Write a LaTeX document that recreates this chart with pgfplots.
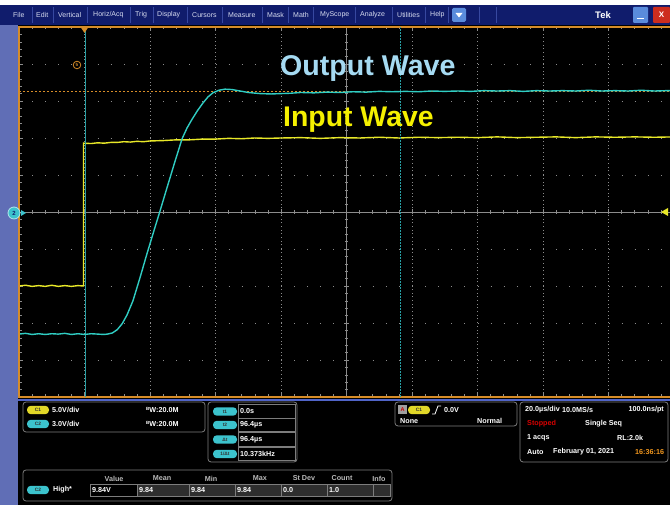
\documentclass[border=0pt]{standalone}
\usepackage{pgfplots}
\pgfplotsset{compat=1.18}
\usepackage{fontspec}
\setmainfont{Liberation Sans}
\definecolor{menubg}{RGB}{16,28,108}
\definecolor{menusep}{RGB}{55,72,160}
\definecolor{menutxt}{RGB}{215,220,240}
\definecolor{strip}{RGB}{96,110,182}
\definecolor{frameor}{RGB}{214,140,40}
\definecolor{gridc}{RGB}{140,140,140}
\definecolor{cyanT}{RGB}{48,205,195}
\definecolor{yelT}{RGB}{232,232,40}
\definecolor{cursorc}{RGB}{40,160,165}
\definecolor{outlbl}{RGB}{165,218,242}
\definecolor{inlbl}{RGB}{245,240,0}
\definecolor{pillc}{RGB}{60,195,205}
\definecolor{pilly}{RGB}{225,215,40}
\definecolor{boxc}{RGB}{125,125,125}
\definecolor{btnblue}{RGB}{90,140,220}
\definecolor{btnred}{RGB}{205,45,30}
\definecolor{panelblue}{RGB}{80,100,200}
\definecolor{hdr}{RGB}{185,185,185}
\definecolor{clockor}{RGB}{240,150,30}
\newcommand{\mtxt}[2]{\node[anchor=west,inner sep=0,text=menutxt,font=\fontsize{7}{7}\selectfont] at (#1,15) {#2};}
\newcommand{\pill}[4]{\fill[#1, rounded corners=3.8pt] (#2-11,#3-4.2) rectangle (#2+11,#3+4.2); \node[font=\bfseries\fontsize{4.8}{5}\selectfont, text=black!80, inner sep=0] at (#2,#3) {#4};}
\tikzset{ptxt/.style={anchor=west,inner sep=0,text=white,font=\bfseries\fontsize{7.2}{7.5}\selectfont},
 htxt/.style={inner sep=0,text=hdr,font=\bfseries\fontsize{7.2}{7.5}\selectfont},
 pbox/.style={draw=boxc, line width=0.8pt, rounded corners=3pt}}
\begin{document}
\begin{tikzpicture}[x=1pt,y=1pt]
\useasboundingbox (0,0) rectangle (670,505);
\fill[black] (0,0) rectangle (670,505);
% centre cross with ticks
\begin{axis}[at={(19pt,108pt)}, anchor=south west, scale only axis, width=655pt, height=370pt,
 xmin=-100,xmax=100,ymin=-5,ymax=5, axis lines=middle,
 axis line style={draw=gridc,line width=0.5pt,-},
 xtick={-100,-80,...,100}, ytick={-5,-4,...,5}, minor x tick num=4, minor y tick num=4,
 xticklabels={}, yticklabels={}, tick align=center, major tick length=5pt, minor tick length=3.5pt,
 tick style={gridc, line width=0.5pt}]
\end{axis}
% main graticule and traces
\begin{axis}[at={(19pt,108pt)}, anchor=south west, scale only axis, width=655pt, height=370pt,
 xmin=-20,xmax=180,ymin=-5,ymax=5,
 axis line style={draw=frameor,line width=1.3pt},
 xtick={-20,0,...,180}, ytick={-5,-4,...,5}, minor x tick num=4, minor y tick num=4,
 xticklabels={}, yticklabels={}, tick align=inside, major tick length=4pt, minor tick length=2.5pt,
 tick style={gridc,line width=0.5pt}, grid=major,
 major x grid style={gridc, line width=0.6pt, dash pattern=on 0.8pt off 2.9pt},
 major y grid style={gridc, line width=0.7pt, dash pattern=on 1pt off 12.1pt}]
\addplot[frameor, dash pattern=on 2pt off 2pt, line width=0.7pt] coordinates {(-20,3.27) (180,3.27)};
\addplot[yelT, line width=1.4pt] coordinates {
(-20,-2.00) (-18,-1.98) (-16,-2.01) (-14,-1.99) (-12,-2.01) (-10,-1.98) (-8,-2.01) (-6,-1.99) (-4,-2.01) (-2,-1.99) (-0.3,-2.00)
(-0.3,1.86) (2,1.85) (4,1.87) (6,1.86) (8,1.88) (10,1.88) (12,1.90) (14,1.89) (16,1.91) (18,1.90) (20,1.92) (24,1.93) (28,1.95) (32,1.95) (36,1.97) (40,1.97) (44,1.99) (48,1.98) (52,2.00) (56,1.99) (60,2.00) (66,2.01) (72,1.99) (78,2.01) (84,2.00) (90,2.02) (96,2.00) (102,2.02) (108,2.01) (114,2.02) (120,2.01) (126,2.03) (132,2.01) (138,2.02) (144,2.03) (150,2.01) (156,2.03) (162,2.02) (168,2.03) (174,2.02) (180,2.03)};
\addplot[cursorc, line width=0.8pt] coordinates {(0.4,-5) (0.4,5)};
\addplot[cursorc, line width=0.8pt, dash pattern=on 2pt off 1pt] coordinates {(96.4,-5) (96.4,5)};
\addplot[cyanT, line width=1.4pt] coordinates {
(-20,-3.30) (-18,-3.28) (-16,-3.31) (-14,-3.29) (-12,-3.31) (-10,-3.29) (-8,-3.30) (-6,-3.28) (-4,-3.31) (-2,-3.29) (0,-3.31) (2,-3.29) (4,-3.30) (6,-3.31) (7,-3.30) (8.5,-3.27) (10,-3.18) (11.5,-3.02) (13,-2.78) (14.8,-2.40) (17,-1.76) (19.1,-1.12) (21.5,-0.42) (23,0.01) (25,0.60) (27.5,1.33) (29.8,1.98) (31.3,2.27) (32.8,2.50) (34.5,2.74) (36.2,2.95) (37.7,3.11) (39.2,3.22) (41,3.29) (42.9,3.32) (45,3.31) (47.5,3.27) (50,3.23) (53.6,3.20) (57,3.19) (60,3.20) (63,3.21) (66,3.23) (70,3.22) (74,3.24) (78,3.23) (82,3.25) (86,3.24) (90,3.26) (94,3.25) (98,3.26) (102,3.25) (106,3.27) (110,3.26) (114,3.27) (118,3.26) (122,3.28) (126,3.27) (130,3.28) (134,3.26) (138,3.28) (142,3.27) (146,3.28) (150,3.27) (154,3.29) (158,3.27) (162,3.28) (166,3.27) (170,3.29) (174,3.27) (178,3.28) (180,3.28)};
\end{axis}
\begin{scope}[yshift=505pt, y=-1pt]
% menu bar
\fill[white] (0,0) rectangle (670,5);
\fill[menubg] (0,5) rectangle (670,25);
\foreach \s in {32,53,87,130,153,187,222,262,288,313,355,392,425,448,479,496}
  \draw[menusep,line width=0.6pt] (\s,7) -- (\s,23);
\mtxt{13}{File}\mtxt{36}{Edit}\mtxt{58}{Vertical}\mtxt{93}{Horiz/Acq}\mtxt{135}{Trig}
\mtxt{157}{Display}\mtxt{192}{Cursors}\mtxt{228}{Measure}\mtxt{267}{Mask}\mtxt{293}{Math}
\mtxt{320}{MyScope}\mtxt{360}{Analyze}\mtxt{397}{Utilities}\mtxt{430}{Help}
\fill[btnblue, rounded corners=1.5pt] (452,8) rectangle (466,22);
\fill[white] (455.5,13) -- (462.5,13) -- (459,17.5) -- cycle;
\node[anchor=west, inner sep=0, text=white, font=\bfseries\fontsize{9.5}{9.5}\selectfont] at (595,15) {Tek};
\fill[btnblue, rounded corners=1pt] (633,7) rectangle (648,23);
\draw[white, line width=1.3pt] (637,18.5) -- (644,18.5);
\fill[btnred, rounded corners=1pt] (653,7) rectangle (670,23);
\node[text=white, font=\bfseries\fontsize{8}{8}\selectfont] at (661.5,15) {X};
% left strip, bottom line
\fill[strip] (0,25) rectangle (17.5,505);
\fill[frameor] (17.5,26) rectangle (19.5,397);
\fill[panelblue] (17.5,399) rectangle (670,401);
% markers
\fill[frameor] (80.5,27) -- (88.5,27) -- (84.5,33) -- cycle;
\draw[frameor, line width=0.8pt] (77,65) circle (3.8);
\node[text=frameor, inner sep=0, font=\bfseries\fontsize{4.5}{5}\selectfont] at (77,65) {5};
\fill[pillc] (14,213) circle (6);
\draw[white!60!pillc, line width=0.8pt] (14,213) circle (6);
\node[text=menubg, inner sep=0, font=\bfseries\fontsize{6}{6}\selectfont] at (14,213) {2};
\fill[pillc] (21,210) -- (26,213) -- (21,216) -- cycle;
\fill[yelT] (661,212) -- (668,208) -- (668,216) -- cycle;
% wave labels
\node[anchor=base west, inner sep=0, text=outlbl, font=\bfseries\fontsize{28.6}{28.6}\selectfont] at (280,76) {Output Wave};
\node[anchor=base west, inner sep=0, text=inlbl, font=\bfseries\fontsize{28.4}{28.4}\selectfont] at (283,127) {Input Wave};
% box 1: channels
\draw[pbox] (23,402) rectangle (205,432);
\pill{pilly}{38}{410}{C1}
\node[ptxt] at (52,410) {5.0V/div};
\node[ptxt] at (146,410) {\raisebox{1.5pt}{\fontsize{4.5}{5}\selectfont B}W:20.0M};
\pill{pillc}{38}{424}{C2}
\node[ptxt] at (52,424) {3.0V/div};
\node[ptxt] at (146,424) {\raisebox{1.5pt}{\fontsize{4.5}{5}\selectfont B}W:20.0M};
% box 2: cursors
\draw[pbox] (208,402) rectangle (297,462);
\foreach \yy/\lab/\val in {411.5/t1/0.0s, 425/t2/96.4µs, 439.5/Δt/96.4µs, 454/1\slash Δt/10.373kHz}{
  \fill[pillc, rounded corners=3.8pt] (213,\yy-4.2) rectangle (237,\yy+4.2);
  \node[font=\bfseries\fontsize{4.8}{5}\selectfont, text=black!80, inner sep=0] at (225,\yy) {\lab};
  \draw[boxc, line width=0.7pt] (238,\yy-6.8) rectangle (295,\yy+6.8);
  \node[ptxt] at (240,\yy) {\val};
}
% box 3: measurements
\draw[pbox] (23,470) rectangle (392,501);
\node[htxt] at (114,478.5) {Value};
\node[htxt] at (162,478.5) {Mean};
\node[htxt] at (211,478.5) {Min};
\node[htxt] at (260,478.5) {Max};
\node[htxt] at (304,478.5) {St Dev};
\node[htxt] at (342,478.5) {Count};
\node[htxt] at (379,478.5) {Info};
\pill{pillc}{38}{490}{C2}
\node[ptxt] at (53,490) {High*};
\draw[boxc, line width=0.7pt] (90,484) rectangle (137,496);
\foreach \a/\b in {137/189,189/235,235/281,281/327,327/373,373/390}
  \draw[boxc, line width=0.7pt, fill=black!82] (\a,484) rectangle (\b,496);
\node[ptxt] at (92,490) {9.84V};
\node[ptxt] at (139,490) {9.84};
\node[ptxt] at (191,490) {9.84};
\node[ptxt] at (237,490) {9.84};
\node[ptxt] at (283,490) {0.0};
\node[ptxt] at (329,490) {1.0};
% box 4: trigger
\draw[pbox] (395,402) rectangle (517,426);
\fill[gray!75] (398,405) rectangle (407,414);
\node[text=red!80!black, inner sep=0, font=\bfseries\fontsize{5.5}{6}\selectfont] at (402.5,409.5) {A};
\pill{pilly}{419}{410}{C1}
\draw[white, line width=0.8pt] (432,414) -- (435,414) -- (438,406) -- (441,406);
\node[ptxt] at (444,410) {0.0V};
\node[ptxt] at (400,421) {None};
\node[ptxt] at (477,421) {Normal};
% box 5: timebase
\draw[pbox] (520,402) rectangle (668,462);
\node[ptxt] at (525,410) {20.0µs/div};
\node[ptxt] at (562,410) {10.0MS/s};
\node[ptxt, anchor=east] at (664,410) {100.0ns/pt};
\node[ptxt, text=red!85!black] at (527,424) {Stopped};
\node[ptxt] at (585,424) {Single Seq};
\node[ptxt] at (527,438) {1 acqs};
\node[ptxt] at (617,438) {RL:2.0k};
\node[ptxt] at (527,452) {Auto};
\node[ptxt] at (553,452) {February 01, 2021};
\node[ptxt, text=clockor] at (635,452) {16:36:16};
\end{scope}
\end{tikzpicture}
\end{document}
